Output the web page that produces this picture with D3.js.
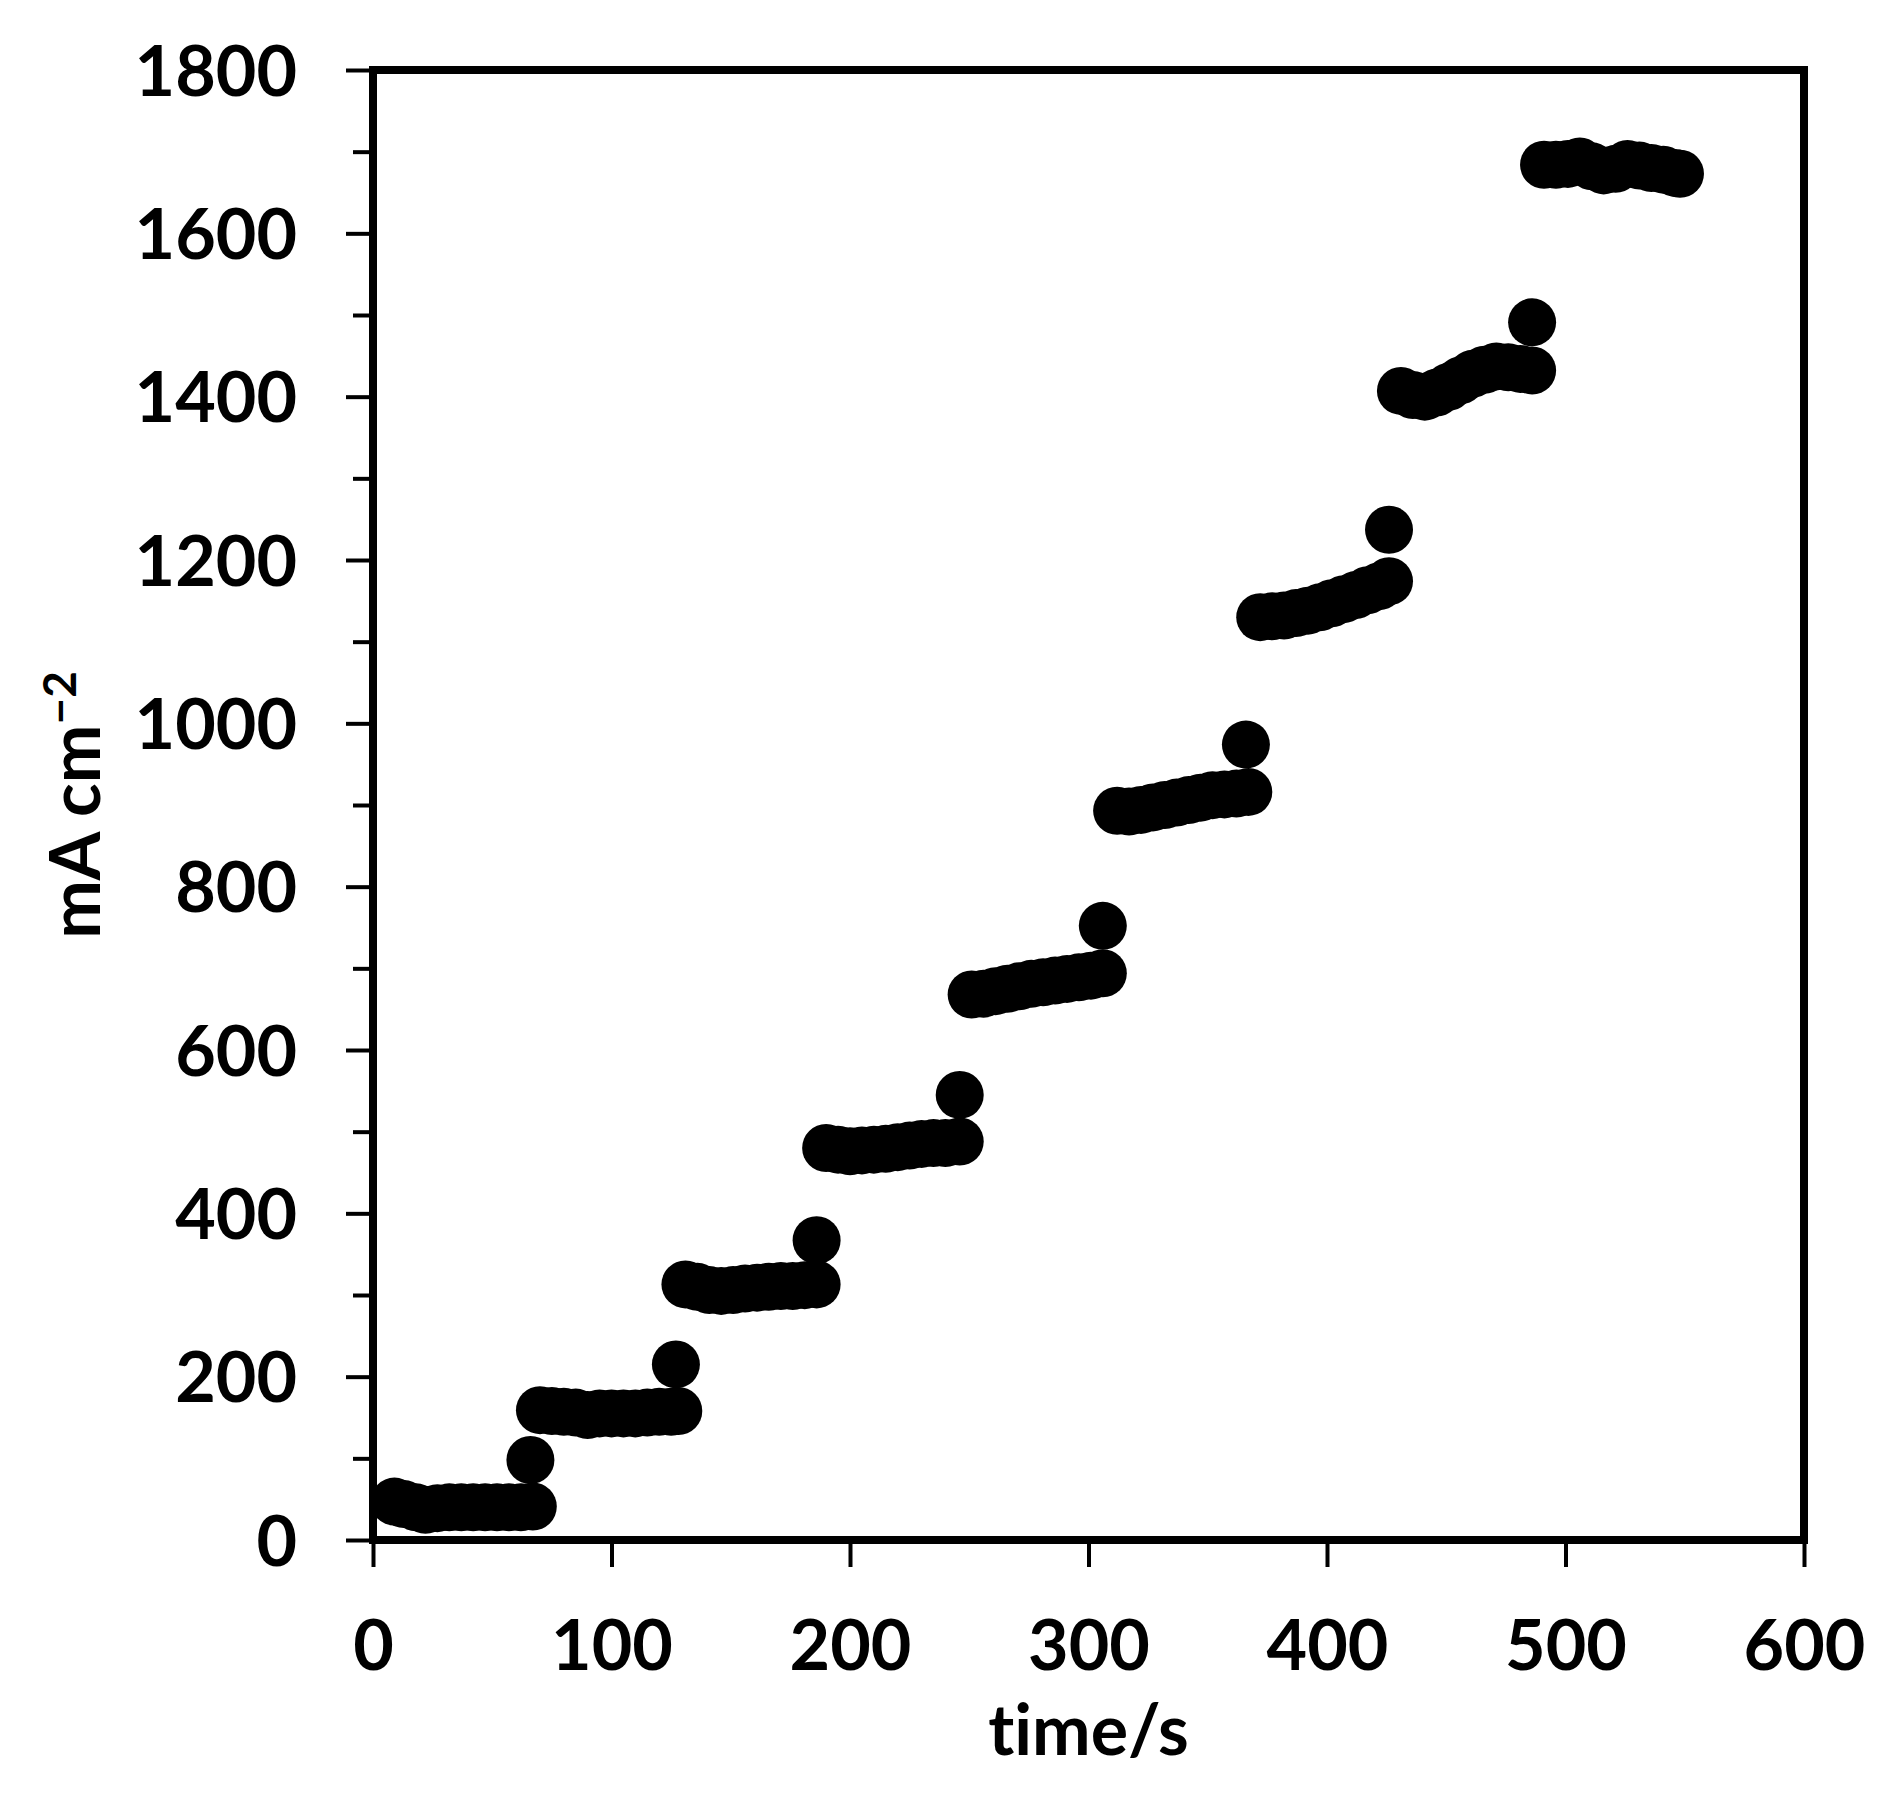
<!DOCTYPE html>
<html>
<head>
<meta charset="utf-8">
<script src="https://cdn.jsdelivr.net/npm/d3@7"></script>
<style>
  html, body { margin: 0; padding: 0; background: #fff; }
  svg { display: block; }
  text { font-family: Lato, Carlito, "Open Sans", sans-serif; font-weight: 700; fill: #000;
         font-variant-ligatures: none; font-feature-settings: "liga" 0, "clig" 0; }
</style>
</head>
<body>
<svg id="chart" width="1899" height="1804"></svg>
<script>
// ---- data (time in s, current density in mA cm^-2) ----
const time = [
  9, 13, 18, 22, 27, 32, 37, 42, 47, 52, 57, 62, 67, 66,
  70, 75, 80, 85, 90, 95, 100, 105, 110, 115, 120, 125, 128, 127,
  131, 136, 141, 146, 151, 156, 161, 166, 171, 176, 181, 186, 186,
  190, 195, 200, 205, 210, 215, 220, 225, 230, 235, 240, 246, 246,
  251, 256, 261, 266, 271, 276, 281, 286, 291, 296, 301, 306, 306,
  312, 317, 322, 327, 332, 337, 342, 347, 352, 357, 362, 367, 366,
  372, 377, 382, 387, 392, 397, 402, 407, 412, 417, 422, 426, 426,
  431, 436, 441, 446, 451, 456, 461, 466, 471, 476, 481, 486, 486,
  491, 496, 501, 506, 511, 516, 521, 526, 531, 536, 541, 546, 548
];
const current = [
  47, 44, 40, 37, 39, 40, 40, 40, 40, 40, 40, 40, 41, 98,
  159, 158, 157, 156, 153, 155, 155, 155, 155, 156, 157, 157, 158, 215,
  313, 310, 306, 305, 306, 308, 309, 310, 311, 311, 312, 313, 367,
  480, 478, 476, 477, 478, 479, 481, 483, 485, 486, 486, 488, 545,
  668, 669, 672, 675, 678, 681, 683, 685, 687, 689, 691, 694, 752,
  893, 892, 894, 897, 900, 903, 906, 909, 912, 913, 914, 916, 974,
  1130, 1131, 1132, 1135, 1138, 1142, 1147, 1152, 1157, 1163, 1168, 1174, 1237,
  1407, 1402, 1400, 1405, 1412, 1420, 1428, 1433, 1437, 1436, 1434, 1432, 1491,
  1684, 1684, 1685, 1688, 1682, 1677, 1679, 1685, 1683, 1680, 1678, 1674, 1673
];
const xTicks = [0, 100, 200, 300, 400, 500, 600];
const yTicks = [0, 200, 400, 600, 800, 1000, 1200, 1400, 1600, 1800];
const yMinorTicks = [100, 300, 500, 700, 900, 1100, 1300, 1500, 1700];
const xLabel = "time/s";
const yLabelMain = "mA cm";
const yLabelSup = "\u22122";

(function () {
  const svg = d3.select("#chart");
  const pl = 373, pr = 1804, pt = 70, pb = 1540;
  const x = d3.scaleLinear().domain([0, 600]).range([pl, pr]);
  const y = d3.scaleLinear().domain([0, 1800]).range([pb, pt]);
  const fs = 70;
  const ff = "Lato, Carlito, 'Open Sans', sans-serif";
  const fmt = d3.format("d");

  // markers
  svg.append("g")
    .selectAll("circle")
    .data(time.map((t, i) => ({ t, v: current[i] })))
    .join("circle")
    .attr("cx", d => x(d.t))
    .attr("cy", d => y(d.v))
    .attr("r", 24)
    .attr("fill", "#000");

  // minor y ticks
  const yMinor = svg.append("g")
    .attr("transform", `translate(${pl},0)`)
    .call(d3.axisLeft(y).tickValues(yMinorTicks).tickSize(20).tickSizeOuter(0).tickFormat(""));
  yMinor.select(".domain").remove();
  yMinor.selectAll(".tick line").attr("stroke", "#000").attr("stroke-width", 4);

  // major y ticks
  const yAx = svg.append("g")
    .attr("transform", `translate(${pl},0)`)
    .call(d3.axisLeft(y).tickValues(yTicks).tickSize(27).tickSizeOuter(0).tickPadding(49).tickFormat(fmt));
  yAx.select(".domain").remove();
  yAx.selectAll(".tick line").attr("stroke", "#000").attr("stroke-width", 4);
  yAx.selectAll(".tick text")
    .attr("font-size", fs)
    .attr("dy", "0.36em")
    .attr("fill", "#000")
    .style("font-family", ff)
    .style("font-weight", 700);

  // x ticks
  const xAx = svg.append("g")
    .attr("transform", `translate(0,${pb})`)
    .call(d3.axisBottom(x).tickValues(xTicks).tickSize(27).tickSizeOuter(0).tickFormat(fmt));
  xAx.select(".domain").remove();
  xAx.selectAll(".tick line").attr("stroke", "#000").attr("stroke-width", 4);
  xAx.selectAll(".tick text")
    .attr("font-size", fs)
    .attr("y", 130)
    .attr("dy", 0)
    .attr("fill", "#000")
    .style("font-family", ff)
    .style("font-weight", 700);

  // frame
  svg.append("rect")
    .attr("x", pl).attr("y", pt)
    .attr("width", pr - pl).attr("height", pb - pt)
    .attr("fill", "none").attr("stroke", "#000").attr("stroke-width", 8);

  // axis titles
  svg.append("text")
    .attr("x", (pl + pr) / 2)
    .attr("y", 1755)
    .attr("text-anchor", "middle")
    .attr("font-size", fs)
    .text(xLabel);

  const yl = svg.append("text")
    .attr("transform", `translate(100,${(pt + pb) / 2}) rotate(-90)`)
    .attr("text-anchor", "middle")
    .attr("font-size", fs);
  yl.append("tspan").text(yLabelMain);
  yl.append("tspan").attr("font-size", 46).attr("dy", -24).text(yLabelSup);
})();
</script>
</body>
</html>
